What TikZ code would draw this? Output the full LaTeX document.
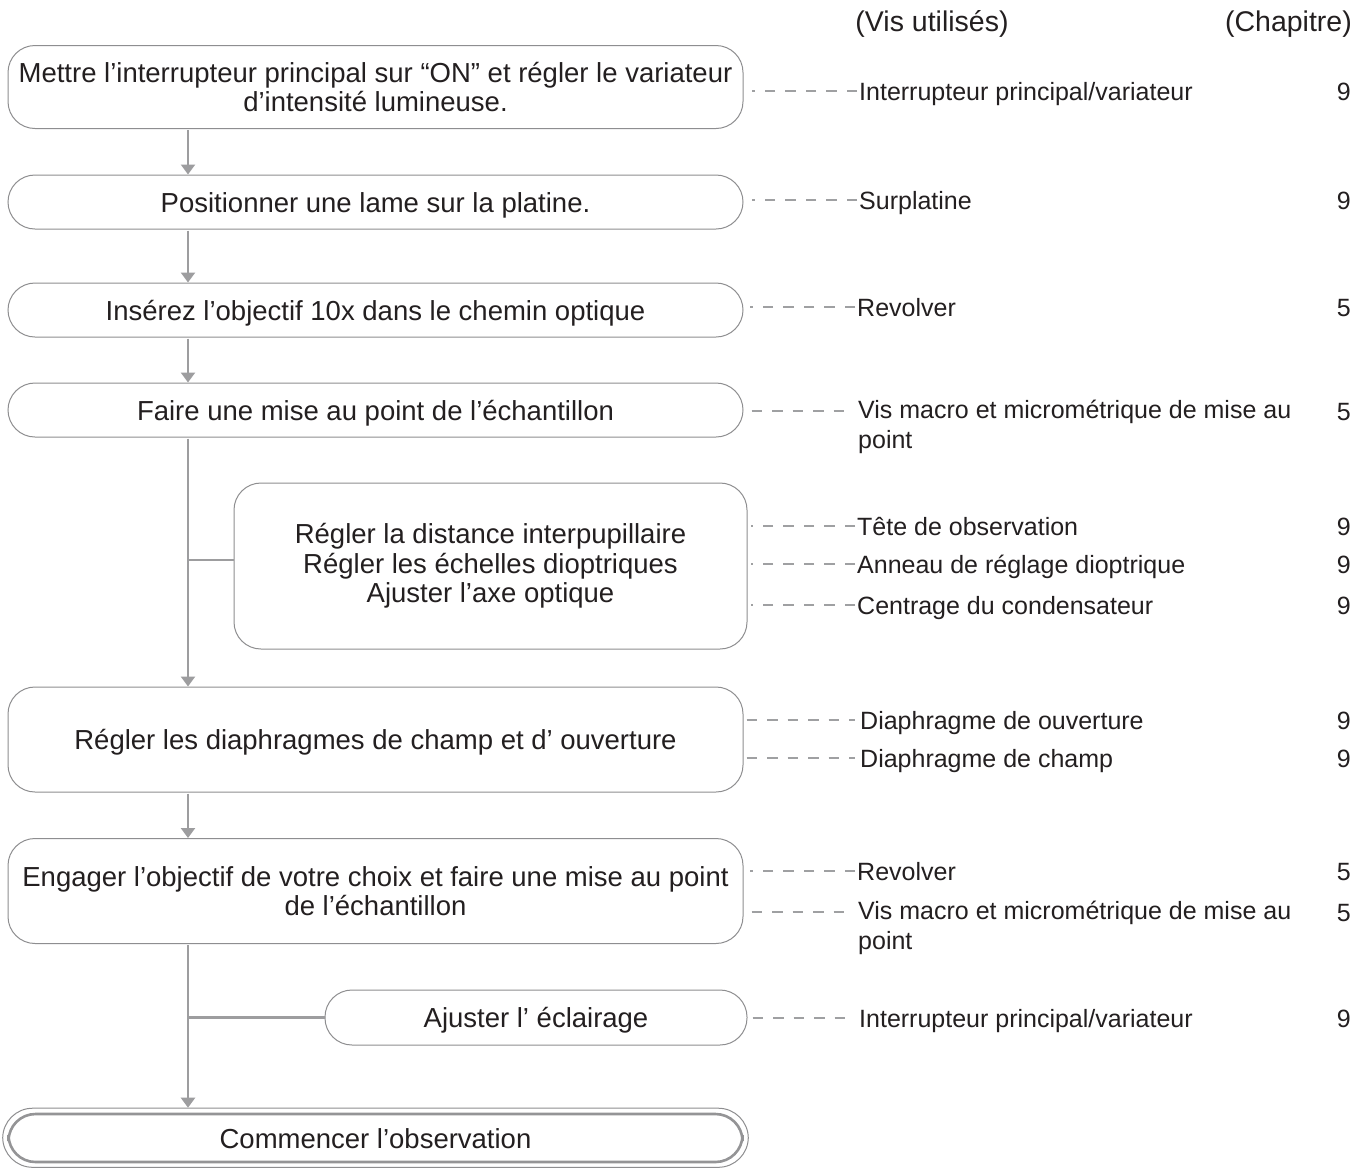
\documentclass[tikz,border=0pt]{standalone}
\usepackage{fontspec}
\setmainfont{Liberation Sans}
\usetikzlibrary{arrows.meta,calc}
\definecolor{txt}{HTML}{231F20}
\definecolor{boxline}{HTML}{8E8E90}
\definecolor{flow}{HTML}{9D9D9F}
\definecolor{dashc}{HTML}{9FA0A2}
\definecolor{finalline}{HTML}{949496}
\begin{document}
\begin{tikzpicture}[x=1pt,y=-1pt,
  box/.style={draw=boxline, line width=1pt, rounded corners=27pt, align=center, text=txt,
    font=\fontsize{27.5}{29.5}\selectfont, inner sep=0pt},
  oneline/.style={text height=20pt, text depth=0pt},
  flowline/.style={draw=flow, line width=2.2pt},
  flowarrow/.style={flowline, -{Triangle[width=14pt,length=10pt]}},
  labtwo/.style={anchor=west, align=left, text=txt, font=\fontsize{25}{30}\selectfont, inner sep=0pt},
  lab/.style={labtwo, text height=18pt, text depth=0pt},
  num/.style={anchor=east, text=txt, font=\fontsize{25}{30}\selectfont, inner sep=0pt, text height=18pt, text depth=0pt},
  hdr/.style={text=txt, font=\fontsize{28.5}{32}\selectfont, inner sep=0pt},
  dashln/.style={draw=dashc, line width=1.5pt, dash pattern=on 10.5pt off 10pt}
]
\useasboundingbox (0,0) rectangle (1360,1168);
\fill[white] (0,0) rectangle (1360,1168);

% headers
\node[hdr] (h1) at (932,24) {(Vis utilisés)};
\node[hdr, anchor=east] (h2) at (1352,24) {(Chapitre)};

% boxes
\node[box, minimum width=735pt, minimum height=83pt] (b1) at (375.5,87)
  {Mettre l’interrupteur principal sur “ON” et régler le variateur\\d’intensité lumineuse.};
\node[box, oneline, minimum width=735pt, minimum height=54pt] (b2) at (375.5,202)
  {Positionner une lame sur la platine.};
\node[box, oneline, minimum width=735pt, minimum height=54pt] (b3) at (375.5,310)
  {Insérez l’objectif 10x dans le chemin optique};
\node[box, oneline, minimum width=735pt, minimum height=54pt] (b4) at (375.5,410)
  {Faire une mise au point de l’échantillon};
\node[box, minimum width=513pt, minimum height=166pt] (b5) at (490.5,566)
  {Régler la distance interpupillaire\\Régler les échelles dioptriques\\Ajuster l’axe optique};
\node[box, oneline, minimum width=735pt, minimum height=105pt] (b6) at (375.5,739.5)
  {Régler les diaphragmes de champ et d’ ouverture};
\node[box, minimum width=735pt, minimum height=105pt] (b7) at (375.5,891)
  {Engager l’objectif de votre choix et faire une mise au point\\de l’échantillon};
\node[box, oneline, minimum width=422pt, minimum height=55pt] (b8) at (536,1017.5)
  {Ajuster l’ éclairage};
\node[box, oneline, draw=finalline, line width=2.6pt, minimum width=734pt, minimum height=48pt] (b9) at (375.5,1138)
  {Commencer l’observation};
\draw[boxline, line width=1pt, rounded corners=30pt]
  ($(b9.north west)+(-4.5pt,4.5pt)$) rectangle ($(b9.south east)+(4.5pt,-4pt)$);

% spine
\coordinate (spine) at (188,0);
\coordinate (br5) at ($(b5.west)+(0pt,6pt)$);
\draw[flowarrow] ($(b1.south -| spine)+(0pt,-1pt)$) -- (b2.north -| spine);
\draw[flowarrow] ($(b2.south -| spine)+(0pt,-1pt)$) -- (b3.north -| spine);
\draw[flowarrow] ($(b3.south -| spine)+(0pt,-1pt)$) -- (b4.north -| spine);
\draw[flowarrow] ($(b4.south -| spine)+(0pt,-1pt)$) -- (b6.north -| spine);
\draw[flowline] (br5) -- (br5 -| spine);
\draw[flowarrow] ($(b6.south -| spine)+(0pt,-1pt)$) -- (b7.north -| spine);
\draw[flowarrow] ($(b7.south -| spine)+(0pt,-1pt)$) -- ($(b9.north -| spine)+(0pt,5pt)$);
\draw[flowline] (b8.west) -- (b8.west -| spine);

% labels
\node[lab] (l1) at (859,91) {Interrupteur principal/variateur};
\node[num] (n1) at (1351,91) {9};
\node[lab] (l2) at (859,200) {Surplatine};
\node[num] (n2) at (1351,200) {9};
\node[lab] (l3) at (857,307) {Revolver};
\node[num] (n3) at (1351,307) {5};
\node[labtwo] (l4) at (858,427) {Vis macro et micrométrique de mise au\\point};
\node[num] (n4) at (1351,411) {5};
\node[lab] (l5) at (857,526) {Tête de observation};
\node[num] (n5) at (1351,526) {9};
\node[lab] (l6) at (857,564) {Anneau de réglage dioptrique};
\node[num] (n6) at (1351,564) {9};
\node[lab] (l7) at (857,605) {Centrage du condensateur};
\node[num] (n7) at (1351,605) {9};
\node[lab] (l8) at (860,720) {Diaphragme de ouverture};
\node[num] (n8) at (1351,720) {9};
\node[lab] (l9) at (860,758) {Diaphragme de champ};
\node[num] (n9) at (1351,758) {9};
\node[lab] (l10) at (857,871) {Revolver};
\node[num] (n10) at (1351,871) {5};
\node[labtwo] (l11) at (858,928) {Vis macro et micrométrique de mise au\\point};
\node[num] (n11) at (1351,912) {5};
\node[lab] (l12) at (859,1018) {Interrupteur principal/variateur};
\node[num] (n12) at (1351,1018) {9};

% dashed leaders
\draw[dashln] ($(l1.west)+(-2pt,0pt)$) -- ($(b1.east |- l1.west)+(8pt,0pt)$);
\draw[dashln] ($(l2.west)+(-2pt,0pt)$) -- ($(b2.east |- l2.west)+(8pt,0pt)$);
\draw[dashln] ($(l3.west)+(-2pt,0pt)$) -- ($(b3.east |- l3.west)+(6pt,0pt)$);
\coordinate (l4a) at ($(l4.west)+(0pt,16pt)$);
\draw[dashln] ($(b4.east |- l4a)+(8pt,0pt)$) -- ($(l4a)+(-5pt,0pt)$);
\draw[dashln] ($(l5.west)+(-2pt,0pt)$) -- ($(b5.east |- l5.west)+(3pt,0pt)$);
\draw[dashln] ($(l6.west)+(-2pt,0pt)$) -- ($(b5.east |- l6.west)+(3pt,0pt)$);
\draw[dashln] ($(l7.west)+(-2pt,0pt)$) -- ($(b5.east |- l7.west)+(3pt,0pt)$);
\draw[dashln] ($(b6.east |- l8.west)+(3pt,0pt)$) -- ($(l8.west)+(-5pt,0pt)$);
\draw[dashln] ($(b6.east |- l9.west)+(3pt,0pt)$) -- ($(l9.west)+(-5pt,0pt)$);
\draw[dashln] ($(l10.west)+(-2pt,0pt)$) -- ($(b7.east |- l10.west)+(6pt,0pt)$);
\coordinate (l11a) at ($(l11.west)+(0pt,16pt)$);
\draw[dashln] ($(b7.east |- l11a)+(8pt,0pt)$) -- ($(l11a)+(-5pt,0pt)$);
\draw[dashln] ($(b8.east |- l12.west)+(5pt,0pt)$) -- ($(l12.west)+(-5pt,0pt)$);
\end{tikzpicture}
\end{document}
